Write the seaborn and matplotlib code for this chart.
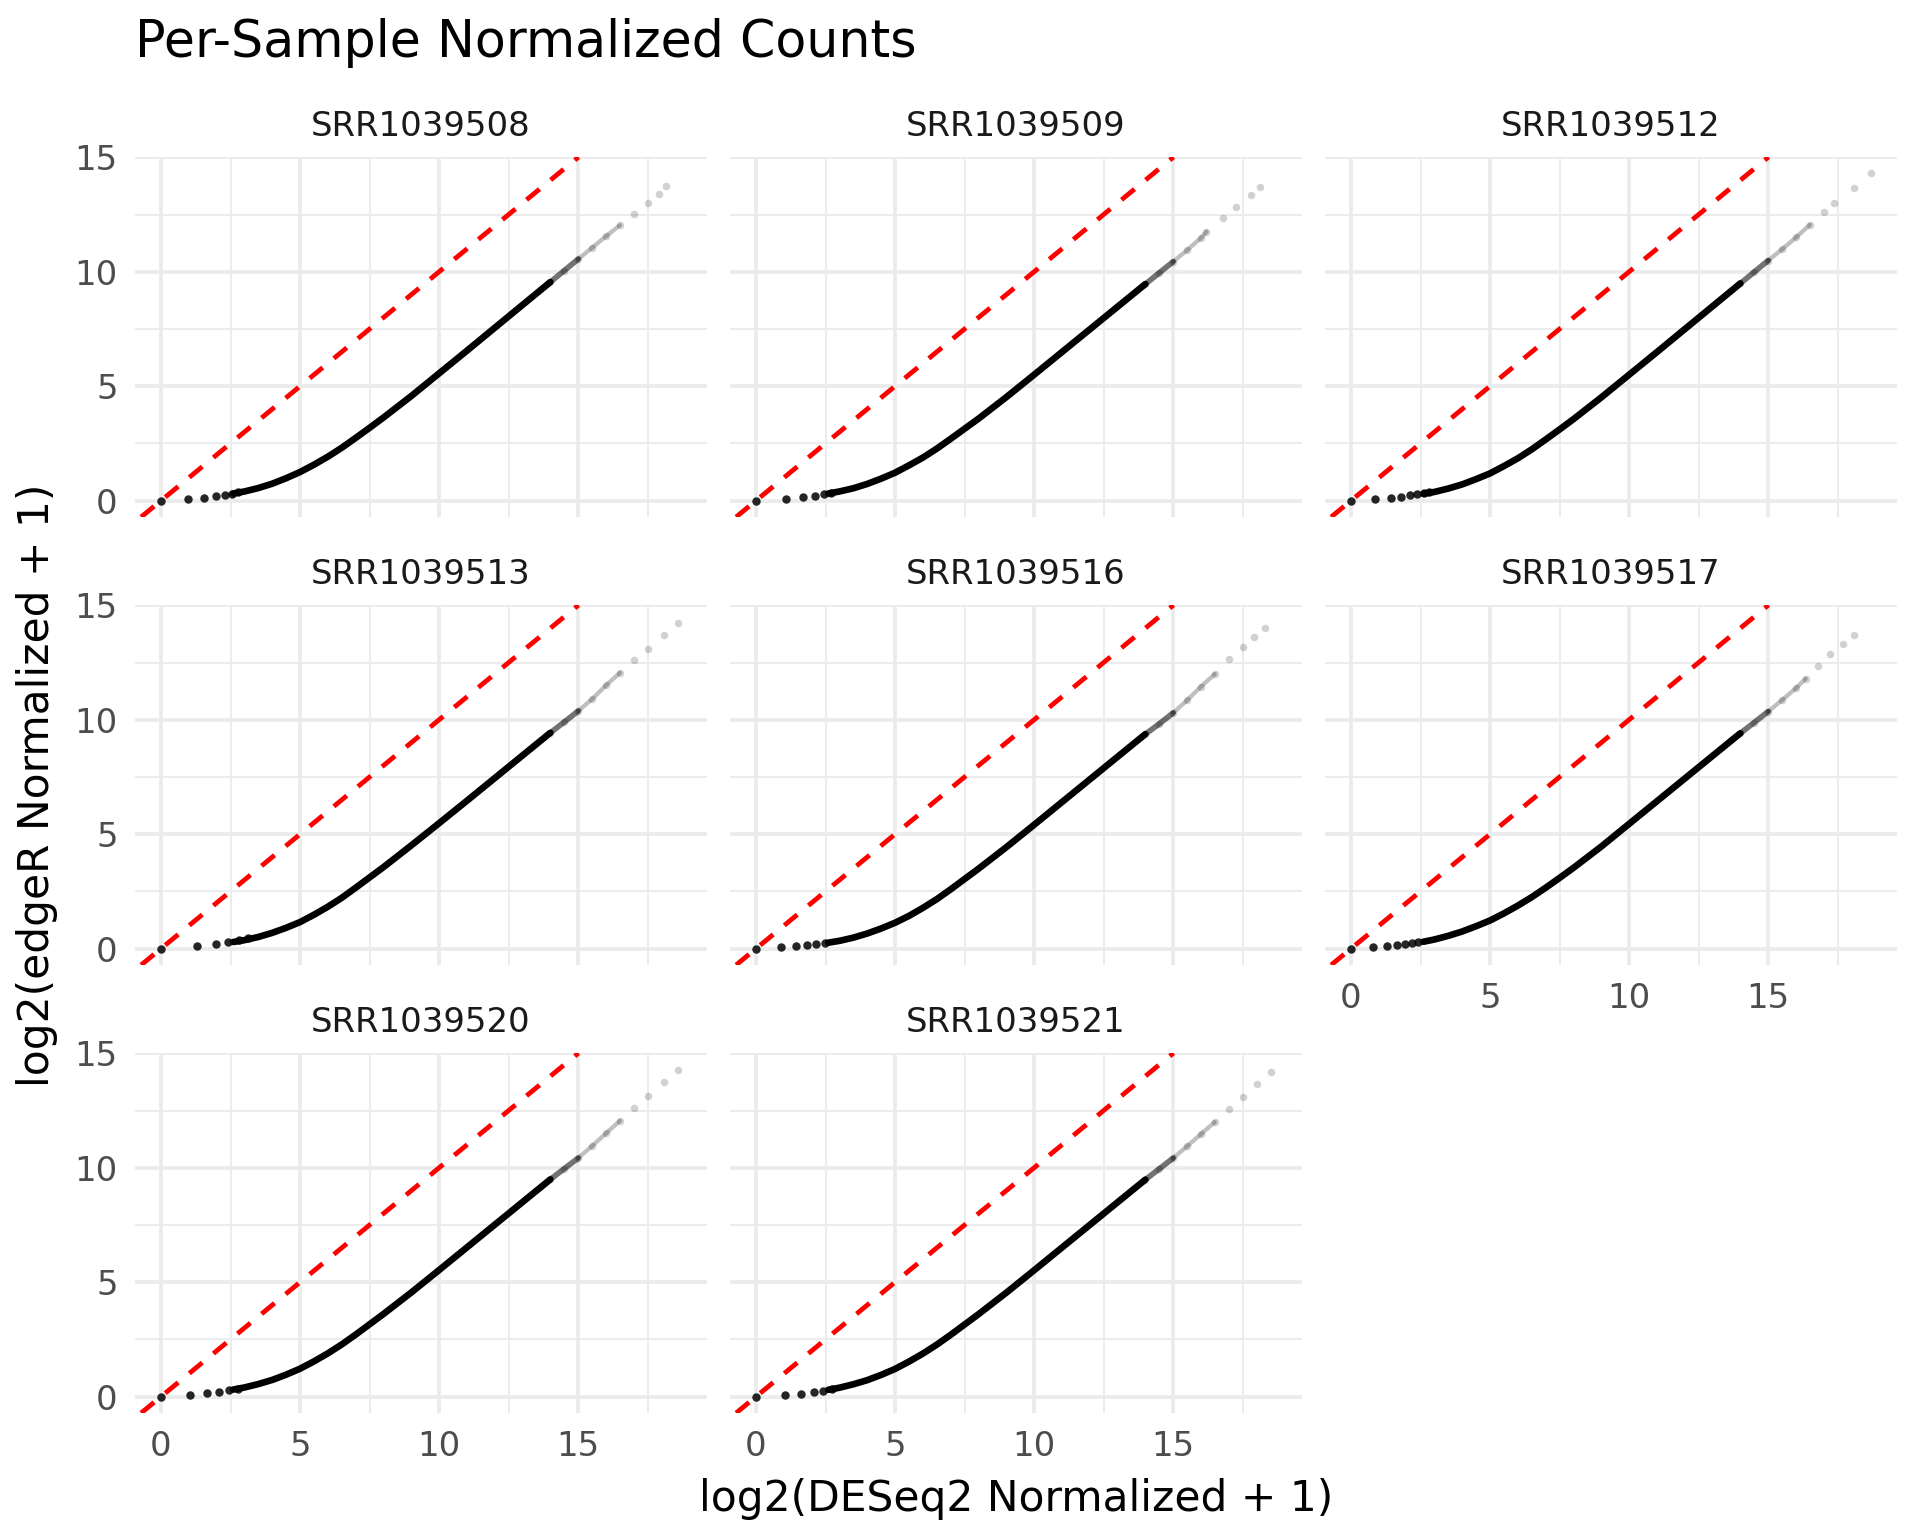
import numpy as np
import pandas as pd
import matplotlib
matplotlib.use("Agg")
import matplotlib.pyplot as plt
import seaborn as sns

# values, one entry per sample panel
samples = ["SRR1039508", "SRR1039509", "SRR1039512", "SRR1039513",
           "SRR1039516", "SRR1039517", "SRR1039520", "SRR1039521"]

# isolated low-count points (lower left)
low_x = [[0, 0.96, 1.56, 1.96, 2.29, 2.54, 2.77],
         [0, 1.08, 1.69, 2.12, 2.45, 2.70],
         [0, 0.88, 1.43, 1.81, 2.12, 2.38, 2.61, 2.80],
         [0, 1.30, 1.98, 2.42, 2.80, 3.12],
         [0, 0.90, 1.44, 1.82, 2.17, 2.47],
         [0, 0.78, 1.28, 1.65, 1.95, 2.19, 2.41],
         [0, 1.06, 1.66, 2.09, 2.45, 2.77],
         [0, 1.03, 1.63, 2.07, 2.42, 2.74]]
low_y = [[0, 0.07, 0.13, 0.19, 0.25, 0.31, 0.36],
         [0, 0.07, 0.15, 0.20, 0.28, 0.33],
         [0, 0.07, 0.12, 0.17, 0.23, 0.29, 0.33, 0.38],
         [0, 0.10, 0.20, 0.28, 0.36, 0.45],
         [0, 0.06, 0.10, 0.15, 0.20, 0.25],
         [0, 0.06, 0.10, 0.15, 0.19, 0.23, 0.28],
         [0, 0.07, 0.15, 0.20, 0.28, 0.35],
         [0, 0.07, 0.13, 0.20, 0.26, 0.33]]

# dense band of genes
body_x = [2.6, 3.0, 3.5, 4.0, 4.5, 5.0, 5.5, 6.0, 6.5, 7.0, 7.5, 8.0,
          9.0, 10.0, 11.0, 12.0, 13.0, 14.0]
body_y = [[0.31, 0.40, 0.55, 0.74, 0.98, 1.25, 1.57, 1.92, 2.31, 2.74, 3.18, 3.63, 4.57, 5.56, 6.55, 7.55, 8.55, 9.55],
          [0.31, 0.40, 0.54, 0.73, 0.96, 1.22, 1.54, 1.88, 2.27, 2.70, 3.14, 3.58, 4.52, 5.50, 6.49, 7.48, 8.47, 9.46],
          [0.30, 0.38, 0.53, 0.71, 0.94, 1.19, 1.51, 1.85, 2.24, 2.67, 3.11, 3.56, 4.51, 5.50, 6.49, 7.49, 8.49, 9.49],
          [0.29, 0.37, 0.51, 0.69, 0.91, 1.16, 1.48, 1.83, 2.22, 2.66, 3.11, 3.56, 4.51, 5.48, 6.46, 7.45, 8.44, 9.43],
          [0.26, 0.34, 0.48, 0.66, 0.88, 1.13, 1.43, 1.78, 2.16, 2.59, 3.04, 3.49, 4.43, 5.41, 6.40, 7.39, 8.38, 9.37],
          [0.30, 0.40, 0.56, 0.75, 0.98, 1.23, 1.54, 1.88, 2.25, 2.66, 3.09, 3.53, 4.46, 5.45, 6.44, 7.43, 8.42, 9.41],
          [0.31, 0.40, 0.55, 0.73, 0.96, 1.22, 1.54, 1.89, 2.28, 2.71, 3.16, 3.61, 4.55, 5.53, 6.52, 7.51, 8.50, 9.49],
          [0.30, 0.39, 0.54, 0.72, 0.95, 1.21, 1.53, 1.88, 2.27, 2.70, 3.15, 3.60, 4.54, 5.52, 6.51, 7.50, 8.49, 9.48]]

# sparse, faded high-count genes
tail_x = [[14.0, 14.5, 15.0, 15.5, 16.0, 16.5, 17.0, 17.5, 17.9, 18.17],
          [14.0, 14.5, 15.0, 15.5, 16.0, 16.2, 16.8, 17.26, 17.8, 18.14],
          [14.0, 14.5, 15.0, 15.5, 16.0, 16.5, 17.0, 17.37, 18.08, 18.7],
          [14.0, 14.5, 15.0, 15.5, 16.0, 16.5, 17.0, 17.5, 18.1, 18.6],
          [14.0, 14.5, 15.0, 15.5, 16.0, 16.5, 17.0, 17.5, 17.9, 18.3],
          [14.0, 14.5, 15.0, 15.5, 16.0, 16.35, 16.8, 17.24, 17.7, 18.1],
          [14.0, 14.5, 15.0, 15.5, 16.0, 16.5, 17.0, 17.5, 18.1, 18.6],
          [14.0, 14.5, 15.0, 15.5, 16.0, 16.5, 17.0, 17.5, 18.0, 18.53]]
tail_y = [[9.55, 10.05, 10.55, 11.05, 11.55, 12.03, 12.52, 13.0, 13.42, 13.76],
          [9.46, 9.95, 10.44, 10.94, 11.48, 11.75, 12.35, 12.84, 13.37, 13.71],
          [9.49, 9.99, 10.49, 10.98, 11.5, 12.05, 12.6, 13.0, 13.67, 14.3],
          [9.43, 9.9, 10.38, 10.9, 11.5, 12.05, 12.6, 13.1, 13.72, 14.25],
          [9.37, 9.82, 10.3, 10.85, 11.45, 12.0, 12.65, 13.2, 13.63, 14.03],
          [9.41, 9.88, 10.36, 10.86, 11.38, 11.8, 12.35, 12.89, 13.3, 13.7],
          [9.49, 9.96, 10.42, 10.95, 11.5, 12.05, 12.6, 13.15, 13.75, 14.27],
          [9.48, 9.95, 10.42, 10.94, 11.47, 12.0, 12.55, 13.1, 13.65, 14.2]]

sns.set_theme(style="white")
plt.rcParams['font.family'] = ['DejaVu Sans']

# ggplot-like limits: data range plus 5% on each side
xmax = max(max(t) for t in tail_x)
ymax = max(max(t) for t in tail_y)
xlim = (-0.05 * xmax, xmax * 1.05)
ylim = (-0.05 * ymax, ymax * 1.05)

fig = plt.figure(figsize=(10, 8), dpi=192)
W, H = 1920, 1536
pw, ph = 572, 360
lefts = [135, 730, 1325]
tops = [157, 605, 1053]

for i, name in enumerate(samples):
    r, c = divmod(i, 3)
    ax = fig.add_axes([lefts[c] / W, 1 - (tops[r] + ph) / H, pw / W, ph / H])
    ax.set_xlim(xlim)
    ax.set_ylim(ylim)
    ax.set_xticks([0, 5, 10, 15])
    ax.set_xticks([2.5, 7.5, 12.5, 17.5], minor=True)
    ax.set_yticks([0, 5, 10, 15])
    ax.set_yticks([2.5, 7.5, 12.5], minor=True)
    ax.grid(which='major', color='#EBEBEB', linewidth=1.4)
    ax.grid(which='minor', color='#EBEBEB', linewidth=0.7)
    ax.set_axisbelow(True)
    for s in ax.spines.values():
        s.set_visible(False)
    ax.tick_params(which='both', length=0, labelsize=12.7, labelcolor='#4D4D4D', pad=6.5)

    df_low = pd.DataFrame({'x': low_x[i], 'y': low_y[i]})
    df_body = pd.DataFrame({'x': body_x, 'y': body_y[i]})
    df_tail = pd.DataFrame({'x': tail_x[i], 'y': tail_y[i]})

    sns.lineplot(data=df_body, x='x', y='y', ax=ax, color='black', linewidth=2.5)
    sns.lineplot(data=df_tail.iloc[:3], x='x', y='y', ax=ax, color='black',
                 linewidth=2.1, alpha=0.55)
    sns.lineplot(data=df_tail.iloc[2:6], x='x', y='y', ax=ax, color='black',
                 linewidth=1.6, alpha=0.25)
    sns.scatterplot(data=df_tail, x='x', y='y', ax=ax, color='black', s=8,
                    alpha=0.18, linewidth=0)
    sns.scatterplot(data=df_low, x='x', y='y', ax=ax, color='black', s=10,
                    alpha=0.85, linewidth=0)
    ax.axline((0, 0), slope=1, color='red', linewidth=1.8, linestyle=(0, (3.5, 3)))

    ax.set_xlabel('')
    ax.set_ylabel('')
    if c != 0:
        ax.tick_params(labelleft=False)
    # x labels on bottom row and on panels with nothing below them
    if i + 3 < len(samples):
        ax.tick_params(labelbottom=False)
    ax.text(0.5, 1 + 30 / ph, name, transform=ax.transAxes, ha='center',
            va='center', fontsize=12.7, color='#1A1A1A')

fig.text(135 / W, 1 - 43 / H, 'Per-Sample Normalized Counts', ha='left',
         va='center', fontsize=19, color='black')
fig.text(37 / W, 1 - 785 / H, 'log2(edgeR Normalized + 1)', rotation=90,
         ha='center', va='center', fontsize=15.9, color='black')
fig.text(1016 / W, 1 - 1499 / H, 'log2(DESeq2 Normalized + 1)', ha='center',
         va='center', fontsize=15.9, color='black')

fig.savefig('out.png', dpi=192)
